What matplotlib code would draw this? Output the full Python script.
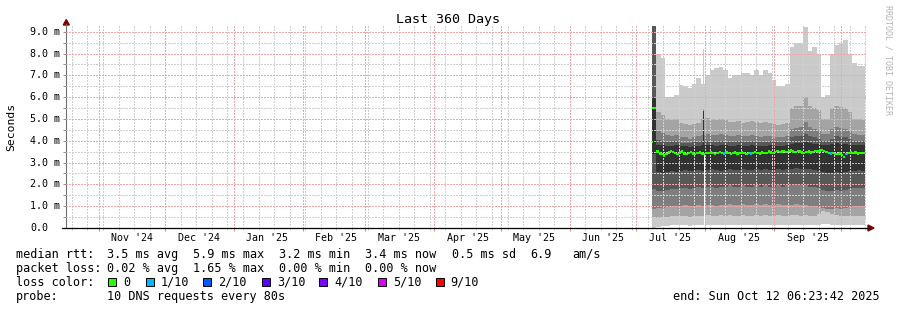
import matplotlib
matplotlib.use("Agg")
import matplotlib.pyplot as plt
import matplotlib.dates as mdates
import matplotlib.transforms as mtrans
from matplotlib.patches import Polygon, Rectangle
from matplotlib.lines import Line2D
import numpy as np
import pandas as pd
import datetime as dt

# ---------------- data ----------------
end_time = dt.datetime(2025, 10, 12, 6, 23, 42)
span_days = 360
smoke_start = "2025-07-08"          # first 2-day smoke bin
median_start = "2025-07-08"         # first daily median value

# sorted ping boundaries per 2-day bin (ms)
p10 = [9.3, 8.0, 7.8, 6.0, 6.0, 6.1, 6.55, 6.5, 6.4, 6.6, 6.9, 6.6, 7.0, 7.25, 7.35, 7.4,
       7.25, 6.9, 7.0, 7.0, 7.1, 7.1, 7.0, 7.25, 7.0, 7.25, 7.1, 6.8, 6.5, 6.5, 6.6, 8.3,
       8.5, 8.5, 9.2, 8.1, 8.3, 8.0, 6.0, 6.1, 8.0, 8.4, 8.5, 8.6, 8.0, 7.55, 7.45, 7.45]
p9 = [9.3, 5.3, 5.2, 5.0, 4.95, 5.0, 4.8, 4.75, 4.7, 4.75, 4.8, 5.0, 5.05, 5.0, 4.95, 5.0,
      4.95, 4.85, 4.85, 4.9, 4.8, 4.85, 4.9, 4.85, 4.8, 4.85, 4.8, 4.75, 4.7, 4.75, 4.8, 5.5,
      5.6, 5.6, 6.0, 5.6, 5.5, 5.4, 5.0, 5.0, 5.5, 5.6, 5.55, 5.5, 5.3, 5.0, 5.0, 4.95]
p8 = [9.3, 4.45, 4.35, 4.25, 4.2, 4.25, 4.15, 4.15, 4.1, 4.15, 4.2, 4.25, 4.3, 4.25, 4.25, 4.3,
      4.25, 4.2, 4.2, 4.25, 4.2, 4.2, 4.25, 4.2, 4.15, 4.2, 4.2, 4.15, 4.15, 4.15, 4.2, 4.55,
      4.6, 4.65, 4.85, 4.65, 4.55, 4.5, 4.3, 4.3, 4.55, 4.65, 4.6, 4.55, 4.45, 4.3, 4.25, 4.25]
p7 = [9.3, 4.05, 4.0, 3.95, 3.95, 4.0, 3.9, 3.9, 3.9, 3.95, 3.95, 4.0, 4.0, 4.0, 3.95, 4.0,
      4.0, 3.95, 3.95, 4.0, 3.95, 3.95, 4.0, 3.95, 3.95, 3.95, 4.0, 3.95, 3.95, 3.95, 4.0, 4.15,
      4.2, 4.2, 4.3, 4.2, 4.15, 4.1, 4.0, 4.0, 4.1, 4.2, 4.15, 4.15, 4.1, 4.0, 4.0, 4.0]
p6 = [6.0, 3.8, 3.8, 3.75, 3.75, 3.8, 3.75, 3.75, 3.7, 3.75, 3.75, 3.8, 3.8, 3.8, 3.75, 3.8,
      3.8, 3.75, 3.75, 3.8, 3.75, 3.75, 3.8, 3.75, 3.75, 3.75, 3.8, 3.75, 3.75, 3.75, 3.8, 3.85,
      3.9, 3.9, 3.95, 3.9, 3.85, 3.85, 3.8, 3.8, 3.85, 3.9, 3.85, 3.85, 3.8, 3.8, 3.8, 3.8]
p5 = [3.4, 2.55, 2.5, 2.55, 2.6, 2.55, 2.6, 2.65, 2.6, 2.6, 2.65, 2.6, 2.65, 2.7, 2.65, 2.6,
      2.65, 2.7, 2.65, 2.65, 2.7, 2.65, 2.65, 2.7, 2.65, 2.7, 2.65, 2.65, 2.7, 2.65, 2.7, 2.7,
      2.75, 2.7, 2.7, 2.7, 2.65, 2.6, 2.55, 2.5, 2.5, 2.55, 2.5, 2.55, 2.6, 2.6, 2.65, 2.6]
p4 = [1.8, 1.7, 1.7, 1.75, 1.8, 1.8, 1.85, 1.85, 1.8, 1.85, 1.9, 1.85, 1.9, 1.9, 1.85, 1.9,
      1.9, 1.95, 1.9, 1.9, 1.95, 1.9, 1.9, 1.95, 1.9, 1.95, 1.9, 1.9, 1.95, 1.9, 1.95, 1.95,
      2.0, 1.95, 1.95, 1.9, 1.9, 1.85, 1.75, 1.7, 1.7, 1.75, 1.7, 1.75, 1.8, 1.85, 1.85, 1.85]
p3 = [0.85, 0.9, 0.9, 0.95, 1.0, 1.0, 1.0, 1.05, 1.0, 1.0, 1.05, 1.0, 1.05, 1.05, 1.0, 1.05,
      1.05, 1.1, 1.05, 1.05, 1.1, 1.05, 1.05, 1.1, 1.05, 1.1, 1.05, 1.05, 1.1, 1.05, 1.05, 1.05,
      1.1, 1.05, 1.05, 1.0, 1.0, 0.95, 0.9, 0.85, 0.85, 0.9, 0.85, 0.9, 0.95, 1.0, 1.0, 1.0]
p2 = [0.5, 0.45, 0.5, 0.5, 0.55, 0.55, 0.55, 0.55, 0.5, 0.55, 0.55, 0.55, 0.6, 0.55, 0.55, 0.6,
      0.55, 0.6, 0.55, 0.55, 0.6, 0.55, 0.55, 0.6, 0.55, 0.6, 0.55, 0.55, 0.6, 0.55, 0.55, 0.6,
      0.6, 0.55, 0.6, 0.55, 0.55, 0.65, 0.8, 0.75, 0.65, 0.6, 0.55, 0.55, 0.55, 0.55, 0.55, 0.55]
p1 = [0.02, 0.05, 0.08, 0.1, 0.12, 0.12, 0.12, 0.12, 0.1, 0.12, 0.12, 0.12, 0.15, 0.12, 0.12, 0.15,
      0.12, 0.15, 0.12, 0.12, 0.15, 0.12, 0.12, 0.15, 0.12, 0.15, 0.12, 0.12, 0.15, 0.12, 0.12, 0.15,
      0.15, 0.12, 0.15, 0.12, 0.12, 0.15, 0.2, 0.2, 0.15, 0.15, 0.12, 0.12, 0.12, 0.12, 0.12, 0.12]

# daily median rtt (ms)
median = [5.5, 5.5, 3.50, 3.42, 3.38, 3.33, 3.40, 3.47, 3.52, 3.48,
          3.44, 3.40, 3.46, 3.50, 3.42, 3.38, 3.45, 3.48, 3.42, 3.40,
          3.44, 3.46, 3.42, 3.40, 3.45, 3.43, 3.47, 3.44, 3.40, 3.45,
          3.48, 3.44, 3.42, 3.46, 3.43, 3.40, 3.45, 3.47, 3.42, 3.44,
          3.46, 3.43, 3.40, 3.44, 3.42, 3.45, 3.48, 3.44, 3.42, 3.46,
          3.43, 3.45, 3.50, 3.47, 3.45, 3.49, 3.52, 3.48, 3.50, 3.53,
          3.49, 3.52, 3.55, 3.50, 3.48, 3.52, 3.50, 3.47, 3.45, 3.48,
          3.50, 3.46, 3.49, 3.52, 3.50, 3.55, 3.58, 3.52, 3.48, 3.44,
          3.42, 3.45, 3.40, 3.38, 3.42, 3.36, 3.25, 3.40, 3.45, 3.47,
          3.44, 3.46, 3.42, 3.45, 3.43, 3.44, 3.45]
loss_days = [32, 44, 80, 87]          # days with 1/10 loss

# isolated spike on Jul 31 and the missing sample next to it
spike_dates = ["2025-07-31 00:00"]
spike_low = [3.5]
spike_high = [5.4]
spike_max = [8.2]
extra_med_dates = ["2025-07-08 00:00", "2025-07-31 00:00"]
extra_med_vals = [3.95, 5.4]
gap_dates = ["2025-07-31 11:00"]
gap_top = [3.35]

y_ticks_major = [0, 1, 2, 3, 4, 5, 6, 7, 8, 9]
loss_labels = ["0", "1/10", "2/10", "3/10", "4/10", "5/10", "9/10"]
loss_colors = ["#26ff00", "#00b8ff", "#0059ff", "#5e00ff", "#7e00ff", "#dd00ff", "#ff0000"]
smoke_colors = ["#cacaca", "#a4a4a4", "#7e7e7e", "#585858", "#323232"]

# ---------------- figure ----------------
W, H = 897, 310
plt.rcParams['font.family'] = ['DejaVu Sans Mono']
fig = plt.figure(figsize=(W / 100, H / 100), dpi=100)
fig.patch.set_facecolor('white')

X0, X1, YT, YB = 65.8, 866.0, 26.0, 228.0
ymax = (YB - YT) / 21.81
ax = fig.add_axes([X0 / W, 1 - YB / H, (X1 - X0) / W, (YB - YT) / H])
ax.set_facecolor('white')
start_time = end_time - dt.timedelta(days=span_days)
ax.set_xlim(start_time, end_time)
ax.set_ylim(0, ymax)

# smoke
n = len(p10)
edges = pd.date_range(smoke_start, periods=n + 1, freq="2D").to_pydatetime()
lows = [p1, p2, p3, p4, p5]
highs = [p10, p9, p8, p7, p6]
for lo, hi, c in zip(lows, highs, smoke_colors):
    lo_e = np.append(lo, lo[-1])
    hi_e = np.append(hi, hi[-1])
    ax.fill_between(edges, lo_e, hi_e, step='post', color=c, linewidth=0, zorder=1)

# spike and gap
sd = pd.to_datetime(spike_dates).to_pydatetime()
ax.bar(sd, np.array(spike_max) - np.array(spike_high), bottom=spike_high, width=0.45,
       align='edge', color=smoke_colors[0], linewidth=0, zorder=1.1)
ax.bar(sd, np.array(spike_high) - np.array(spike_low), bottom=spike_low, width=0.45,
       align='edge', color=smoke_colors[4], linewidth=0, zorder=1.2)
gd = pd.to_datetime(gap_dates).to_pydatetime()
ax.bar(gd, np.array(gap_top) - 0.02, bottom=0.02, width=0.45, align='edge',
       color='white', linewidth=0, zorder=1.3)

# median
md = pd.date_range(median_start, periods=len(median), freq="D").to_pydatetime()
mcol = [loss_colors[1] if i in loss_days else loss_colors[0] for i in range(len(median))]
sw = 0.055
ax.bar(md, 2 * sw, bottom=np.array(median) - sw, width=1.0, align='edge',
       color=mcol, linewidth=0, zorder=5)
ed = pd.to_datetime(extra_med_dates).to_pydatetime()
ax.bar(ed, 2 * sw, bottom=np.array(extra_med_vals) - sw, width=0.45, align='edge',
       color=loss_colors[0], linewidth=0, zorder=5)

# grid (drawn above the smoke, below the median), dotted
ax.xaxis.set_major_locator(mdates.MonthLocator())
ax.xaxis.set_minor_locator(mdates.WeekdayLocator(byweekday=mdates.SU))
ax.set_yticks(y_ticks_major)
ax.set_yticks(np.arange(0.5, ymax, 1.0), minor=True)
ax.grid(which='minor', color='#d0d0d0', linewidth=0.72, linestyle=(0, (2, 2)),
        antialiased=False)
ax.grid(which='major', color='#f3a6a6', linewidth=0.72, linestyle=(0, (2, 2)),
        antialiased=False)
ax.set_axisbelow(False)
ax.tick_params(axis='x', which='major', direction='out', length=2.2, width=0.72,
               color='#f08080', labelbottom=False)
ax.tick_params(axis='x', which='minor', direction='out', length=1.5, width=0.72,
               color='#c0c0c0')
ax.tick_params(axis='y', which='both', direction='out', length=2.5, width=0.72,
               color='#909090', labelleft=False)

for s in ['top', 'right', 'bottom']:
    ax.spines[s].set_visible(False)
ax.spines['left'].set_color('#707070')
ax.spines['left'].set_linewidth(0.8)


def fx(x):
    return x / W


def fy(y):
    return 1 - y / H


# x axis line + arrows
fig.add_artist(Line2D([fx(62), fx(869)], [fy(228), fy(228)], color='black', linewidth=0.9))
fig.add_artist(Line2D([fx(X0), fx(X0)], [fy(YT), fy(24)], color='#707070', linewidth=0.8))
fig.add_artist(Polygon([(fx(63.3), fy(25)), (fx(69.3), fy(25)), (fx(66.3), fy(19.5))],
                       closed=True, color='#7f0000', transform=fig.transFigure))
fig.add_artist(Polygon([(fx(868), fy(225)), (fx(868), fy(231)), (fx(874), fy(228))],
                       closed=True, color='#7f0000', transform=fig.transFigure))

# y tick labels
ytrans = mtrans.blended_transform_factory(fig.transFigure, ax.transData)
for v in y_ticks_major:
    lab = f"{v:.1f} m" if v > 0 else "0.0"
    fig.text(fx(30), v, lab, transform=ytrans, ha='left', va='center', fontsize=7.2,
             color='black')

# x month labels centered mid-month
xtrans = mtrans.blended_transform_factory(ax.transData, fig.transFigure)
m = dt.datetime(start_time.year, start_time.month, 1)
while m < end_time:
    c = m + dt.timedelta(days=15)
    if start_time <= c <= end_time:
        ax.text(mdates.date2num(c), fy(238), c.strftime("%b '%y"), transform=xtrans,
                ha='center', va='center', fontsize=7.2, color='black', clip_on=False)
    m = (m + dt.timedelta(days=32)).replace(day=1)

# title, y label, watermark
fig.text(fx(448), fy(19), "Last 360 Days", ha='center', va='center', fontsize=9.6)
fig.text(fx(11), fy(127), "Seconds", ha='center', va='center', rotation=90, fontsize=8.2)
fig.text(fx(887.5), fy(60), "RRDTOOL / TOBI OETIKER", ha='center', va='center',
         rotation=270, fontsize=6, color='#b4b4b4')

# legend rows
fs = 8.5
rows = [254.3, 268.3, 282.3, 296.3]
fig.text(fx(16), fy(rows[0]), "median rtt:", va='center', fontsize=fs)
for x, s in zip([107.3, 193.3, 279.3, 365.3, 451.5, 530, 572.5],
                ["3.5 ms avg", "5.9 ms max", "3.2 ms min", "3.4 ms now", "0.5 ms sd", "6.9", "am/s"]):
    fig.text(fx(x), fy(rows[0]), s, va='center', fontsize=fs)
fig.text(fx(16), fy(rows[1]), "packet loss:", va='center', fontsize=fs)
for x, s in zip([107.3, 193.3, 279.3, 365.3],
                ["0.02 % avg", "1.65 % max", "0.00 % min", "0.00 % now"]):
    fig.text(fx(x), fy(rows[1]), s, va='center', fontsize=fs)
fig.text(fx(16), fy(rows[2]), "loss color:", va='center', fontsize=fs)
box_x = [108.3, 145.7, 203.3, 261.7, 319.3, 377.7, 435.7]
for bx, lab, col in zip(box_x, loss_labels, loss_colors):
    fig.add_artist(Rectangle((fx(bx), fy(rows[2] + 4)), 8 / W, 8 / H, facecolor=col,
                             edgecolor='black', linewidth=0.7, transform=fig.transFigure))
    fig.text(fx(bx + 15), fy(rows[2]), lab, va='center', fontsize=fs)
fig.text(fx(16), fy(rows[3]), "probe:", va='center', fontsize=fs)
fig.text(fx(107.3), fy(rows[3]), "10 DNS requests every 80s", va='center', fontsize=fs)
fig.text(fx(880), fy(rows[3]), "end: Sun Oct 12 06:23:42 2025", ha='right', va='center',
         fontsize=fs)

fig.savefig("out.png", dpi=100, facecolor='white')
